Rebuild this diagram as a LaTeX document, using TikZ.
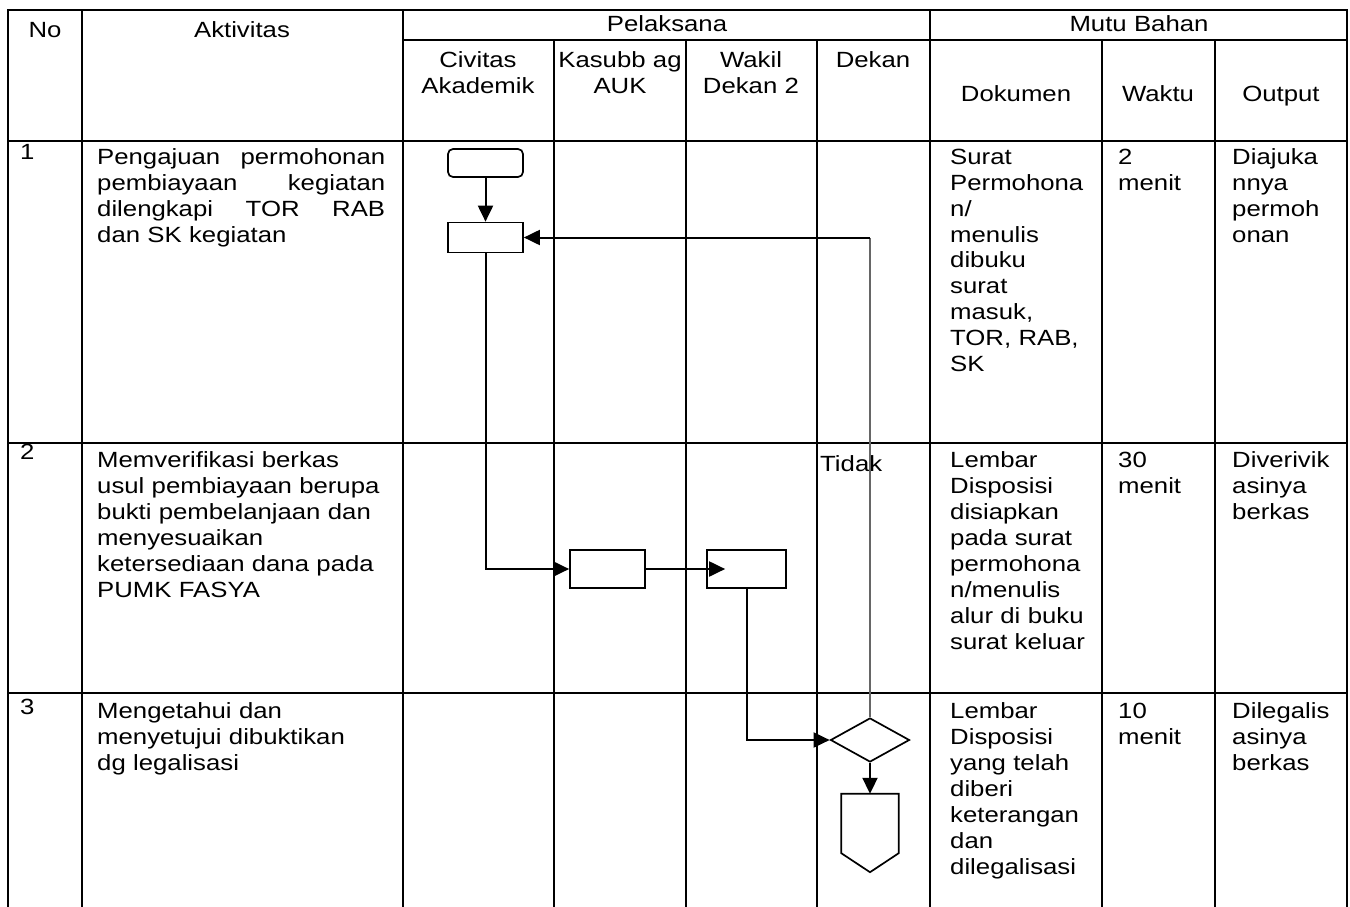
\documentclass[tikz,border=0pt]{standalone}
\usepackage{fontspec}
\setmainfont{Liberation Sans}[FakeStretch=1.17]
\usetikzlibrary{arrows.meta,positioning,shapes.geometric}

% one justified line of the first activity
\newcommand{\jline}[1]{\makebox[288pt][l]{#1}}

\begin{document}
\begin{tikzpicture}[
    x=1pt, y=-1pt,
    font=\fontsize{22}{26}\selectfont,
    grid/.style={line width=2pt, line cap=rect},
    txt/.style={inner sep=0pt, anchor=base west, align=left, text width=#1},
    head/.style={inner sep=0pt, anchor=base, align=center, text width=150pt},
    proc/.style={draw, line width=1.7pt, minimum width=75pt, minimum height=30pt, inner sep=0pt},
    term/.style={proc, rounded corners=5pt, minimum height=28pt},
    decide/.style={draw, diamond, line width=1.7pt, minimum width=79pt, minimum height=44pt, inner sep=0pt},
    arr/.style={line width=2pt, -{Triangle[length=16pt,width=15pt]}},
    thinline/.style={line width=1.3pt, draw=black!60}
]
\useasboundingbox (0,0) rectangle (1350,907);

% Grid lines
\draw[grid] (8,10) -- (1347,10);
\draw[grid] (403,40) -- (1347,40);
\draw[grid] (8,141) -- (1347,141);
\draw[grid] (8,443) -- (1347,443);
\draw[grid] (8,693) -- (1347,693);
\foreach \x in {8,82,403,930,1347}
  \draw[grid] (\x,10) -- (\x,907);
\foreach \x in {554,686,817,1102,1215}
  \draw[grid] (\x,40) -- (\x,907);

% Column headers
\node[head] (hno) at (45,38) {No};
\node[head] (hakt) at (242,38) {Aktivitas};
\node[head] (hpel) at (667,32) {Pelaksana};
\node[head] (hmutu) at (1139,32) {Mutu Bahan};
\node[head] (hciv) at (478,68) {Civitas\\Akademik};
\node[head] (hkas) at (620,68) {Kasubb ag\\AUK};
\node[head] (hwak) at (751,68) {Wakil\\Dekan 2};
\node[head] (hdek) at (873,68) {Dekan};
\node[head] (hdok) at (1016,101) {Dokumen};
\node[head] (hwkt) at (1158,101) {Waktu};
\node[head] (hout) at (1281,101) {Output};

% Row 1
\node[txt=40pt] (no1) at (20,159) {1};
\node[txt=288pt] (akt1) at (97,164) {\jline{Pengajuan\hfill permohonan}\\ \jline{pembiayaan\hfill kegiatan}\\ \jline{dilengkapi\hfill TOR\hfill RAB}\\ dan SK kegiatan};
\node[txt=150pt] (dok1) at (950,164) {Surat\\Permohona\\n/\\menulis\\dibuku\\surat\\masuk,\\TOR, RAB,\\SK};
\node[txt=90pt] (wkt1) at (1118,164) {2\\menit};
\node[txt=110pt] (out1) at (1232,164) {Diajuka\\nnya\\permoh\\onan};

% Row 2
\node[txt=40pt] (no2) at (20,459) {2};
\node[txt=300pt] (akt2) at (97,467) {Memverifikasi berkas\\usul pembiayaan berupa\\bukti pembelanjaan dan\\menyesuaikan\\ketersediaan dana pada\\PUMK FASYA};
\node[txt=150pt] (dok2) at (950,467) {Lembar\\Disposisi\\disiapkan\\pada surat\\permohona\\n/menulis\\alur di buku\\surat keluar};
\node[txt=90pt] (wkt2) at (1118,467) {30\\menit};
\node[txt=110pt] (out2) at (1232,467) {Diverivik\\asinya\\berkas};
\node[txt=80pt] (tidak) at (820,471) {Tidak};

% Row 3
\node[txt=40pt] (no3) at (20,714) {3};
\node[txt=300pt] (akt3) at (97,718) {Mengetahui dan\\menyetujui dibuktikan\\dg legalisasi};
\node[txt=150pt] (dok3) at (950,718) {Lembar\\Disposisi\\yang telah\\diberi\\keterangan\\dan\\dilegalisasi};
\node[txt=90pt] (wkt3) at (1118,718) {10\\menit};
\node[txt=110pt] (out3) at (1232,718) {Dilegalis\\asinya\\berkas};

% Flow shapes
\node[term] (mulai) at (485.5,163) {};
\node[proc] (p1) at (485.5,237.5) {};
\node[proc, minimum height=38pt] (p2) at (607.5,569) {};
\node[proc, minimum width=79pt, minimum height=38pt] (p3) at (746.5,569) {};
\node[decide] (cek) at (870,740) {};
\node[minimum width=57pt, minimum height=78pt, inner sep=0pt] (lanjut) at (870,833) {};
\draw[line width=1.7pt] (lanjut.north west) -- (lanjut.north east) -- ([yshift=19pt]lanjut.south east)
  -- (lanjut.south) -- ([yshift=19pt]lanjut.south west) -- cycle;

% Connectors
\coordinate (balik) at (p1.east -| cek.north);
\draw[arr] (mulai.south) -- (p1.north);
\draw[arr] (p1.south) |- (p2.west);
\draw[arr] (p2.east) -- ([xshift=19pt]p3.west);
\draw[arr] (p3.south) |- (cek.west);
\draw[arr] (cek.south) -- (lanjut.north);
\draw[thinline] (cek.north) -- (balik);
\draw[arr] (balik) -- (p1.east);

\end{tikzpicture}
\end{document}
